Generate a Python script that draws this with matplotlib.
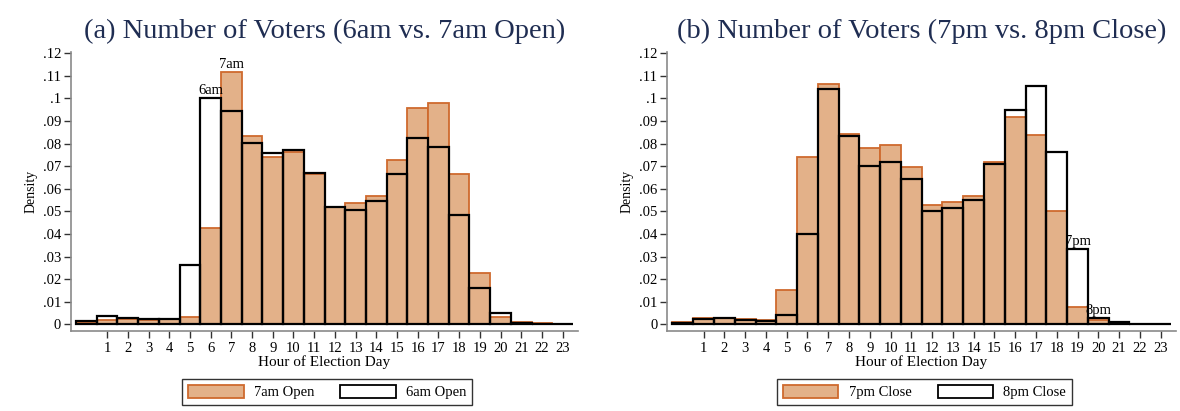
import matplotlib
matplotlib.use("Agg")
import matplotlib.pyplot as plt
from matplotlib.patches import Patch
import numpy as np

hours = list(range(24))
tick_hours = list(range(1, 24))

# Panel (a)
open7 = [0.0012, 0.0018, 0.0025, 0.0019, 0.0022, 0.0031, 0.0426, 0.1117, 0.0833, 0.0742,
         0.0763, 0.0665, 0.0520, 0.0538, 0.0569, 0.0726, 0.0956, 0.0981, 0.0665, 0.0227,
         0.0032, 0.0012, 0.0004, 0.0002]
open6 = [0.0013, 0.0035, 0.0027, 0.0022, 0.0025, 0.0263, 0.1003, 0.0945, 0.0801, 0.0760,
         0.0773, 0.0668, 0.0521, 0.0506, 0.0546, 0.0665, 0.0824, 0.0783, 0.0484, 0.0161,
         0.0049, 0.0007, 0.0003, 0.0001]
# Panel (b)
close7 = [0.0012, 0.0030, 0.0027, 0.0022, 0.0020, 0.0150, 0.0742, 0.1066, 0.0841, 0.0782,
          0.0795, 0.0698, 0.0530, 0.0540, 0.0569, 0.0720, 0.0916, 0.0838, 0.0503, 0.0078,
          0.0019, 0.0007, 0.0003, 0.0002]
close8 = [0.0004, 0.0022, 0.0027, 0.0020, 0.0016, 0.0043, 0.0398, 0.1040, 0.0832, 0.0699,
          0.0720, 0.0642, 0.0503, 0.0516, 0.0550, 0.0708, 0.0950, 0.1056, 0.0764, 0.0335,
          0.0030, 0.0009, 0.0003, 0.0001]

yticks = [0, .01, .02, .03, .04, .05, .06, .07, .08, .09, .1, .11, .12]
ytick_labels = ["0", ".01", ".02", ".03", ".04", ".05", ".06", ".07", ".08", ".09", ".1", ".11", ".12"]

titles = ["(a) Number of Voters (6am vs. 7am Open)", "(b) Number of Voters (7pm vs. 8pm Close)"]
legend_labels = [("7am Open", "6am Open"), ("7pm Close", "8pm Close")]
annotations = [[(6, "6am", "hollow"), (7, "7am", "filled")],
               [(19, "7pm", "hollow"), (20, "8pm", "hollow")]]

FILL = "#e3b189"
EDGE = "#cf6a2e"
TITLE_C = "#1f2d52"
AX_C = "#8a8a8a"
serif = ["Liberation Serif", "DejaVu Serif"]
plt.rcParams['font.family'] = serif

fig = plt.figure(figsize=(11.8, 4.11), dpi=100)
W, H = 1180, 411
axes_px = [(70.7, 578), (667, 1176)]
bottom_px, top_px = 330.7, 51.7

for i, (filled, hollow) in enumerate([(open7, open6), (close7, close8)]):
    x0, x1 = axes_px[i]
    ax = fig.add_axes([x0 / W, (H - bottom_px) / H, (x1 - x0) / W, (bottom_px - top_px) / H])
    ax.bar(hours, filled, width=1.0, color=FILL, edgecolor=EDGE, linewidth=1.3, zorder=2)
    ax.bar(hours, hollow, width=1.0, fill=False, edgecolor="black", linewidth=1.6, zorder=3)
    ax.set_xlim(-0.76, 23.74)
    ax.set_ylim(-0.0028, 0.1207)
    ax.set_yticks(yticks)
    ax.set_yticklabels(ytick_labels)
    ax.set_xticks(tick_hours)
    ax.set_xticklabels([str(h) for h in tick_hours])
    for s in ["top", "right"]:
        ax.spines[s].set_visible(False)
    for s in ["left", "bottom"]:
        ax.spines[s].set_color(AX_C)
        ax.spines[s].set_linewidth(1.2)
    ax.tick_params(axis="both", colors="#333333", labelcolor="black", labelsize=10.5,
                   length=5, width=1.0, direction="out")
    ax.tick_params(axis="y", pad=2)
    ax.tick_params(axis="x", pad=3)
    ax.set_ylabel("Density", fontsize=10, labelpad=4)
    ax.set_xlabel("Hour of Election Day", fontsize=11, labelpad=0)
    ax.set_title(titles[i], fontsize=20.5, color=TITLE_C, pad=10)
    for h, txt, which in annotations[i]:
        val = filled[h] if which == "filled" else hollow[h]
        ax.text(h, val + 0.0004, txt, ha="center", va="bottom", fontsize=10.5, zorder=4)
    handles = [Patch(facecolor=FILL, edgecolor=EDGE, linewidth=1.3),
               Patch(facecolor="white", edgecolor="black", linewidth=1.3)]
    leg = fig.legend(handles, legend_labels[i], loc="center",
                     bbox_to_anchor=(((x0 + x1) / 2 + 3) / W, (H - 392) / H),
                     ncol=2, frameon=True, fancybox=False, edgecolor="black",
                     fontsize=10.5, handlelength=3.8, handleheight=1.0,
                     columnspacing=1.8, borderpad=0.4, handletextpad=0.7,
                     borderaxespad=0)
    leg.get_frame().set_linewidth(1.0)

fig.savefig("out.png", dpi=100, facecolor="white")
